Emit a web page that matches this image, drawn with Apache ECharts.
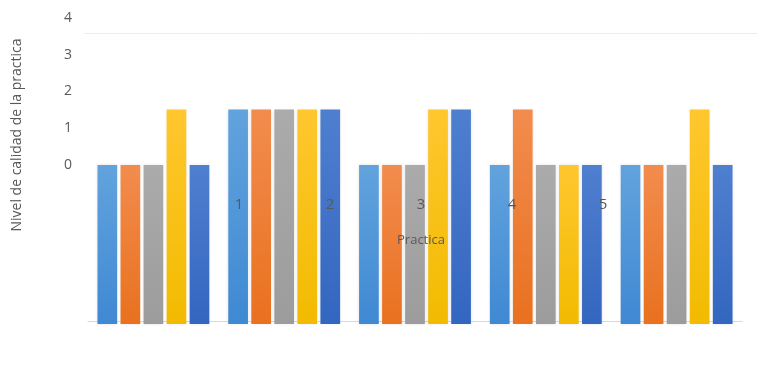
<!DOCTYPE html>
<html>
<head>
<meta charset="utf-8">
<script src="https://cdn.jsdelivr.net/npm/echarts@6/dist/echarts.min.js"></script>
<style>html,body{margin:0;padding:0;background:#fff}#c{width:757px;height:383px}</style>
</head>
<body>
<div id="c"></div>
<script>
// ---- data ----
const groups = ['g1', 'g2', 'g3', 'g4', 'g5'];          // bar groups (unlabelled in the picture)
const categoryLabels = ['1', '2', '3', '4', '5'];        // category tick labels as printed
const yTickLabels = [0, 1, 2, 3, 4];                     // y tick labels
const seriesA = [0, 1.5, 0, 0, 0];
const seriesB = [0, 1.5, 0, 1.5, 0];
const seriesC = [0, 1.5, 0, 0, 0];
const seriesD = [1.5, 1.5, 1.5, 0, 1.5];
const seriesE = [0, 1.5, 1.5, 0, 0];
const axisFloor = -4.3;   // value at which the bars' baseline sits on the labelled axis
const axisCeil = 3.57;    // value at the top gridline
const xTitle = 'Practica';
const yTitle = 'Nivel de calidad de la practica';

const colors = [
  ['#62a3dd', '#3f89d3'],
  ['#f28c4e', '#e9711f'],
  ['#ababab', '#9c9c9c'],
  ['#ffc72e', '#f2bb00'],
  ['#4f7fcf', '#3366c0']
];
const seriesList = [seriesA, seriesB, seriesC, seriesD, seriesE];

const chart = echarts.init(document.getElementById('c'), null, {renderer: 'canvas'});
const font = '"Open Sans", "Noto Sans", sans-serif';

chart.setOption({
  animation: false,
  backgroundColor: '#ffffff',
  grid: [
    {left: 88, right: 15, top: 33, bottom: 59},           // bars
    {left: 88, right: 15, top: 18, height: 147},          // labelled value axis
    {left: 88, right: 15, top: 35, height: 200},          // axis title holder
    {left: 193.5, right: 108.5, top: 190, height: 5},     // category labels
    {left: 84, right: 0, top: 23, height: 10}             // top gridline
  ],
  xAxis: [
    {type: 'category', gridIndex: 0, data: groups, offset: -3,
     axisLine: {show: true, lineStyle: {color: '#d9d9d9', width: 1}},
     axisTick: {show: false}, axisLabel: {show: false}},
    {type: 'category', gridIndex: 4, data: groups,
     axisLine: {show: true, lineStyle: {color: '#ececec', width: 1}},
     axisTick: {show: false}, axisLabel: {show: false}},
    {type: 'value', gridIndex: 1, show: false},
    {type: 'value', gridIndex: 2, show: false},
    {type: 'category', gridIndex: 3, data: categoryLabels, z: 20,
     axisLine: {show: false}, axisTick: {show: false},
     axisLabel: {show: true, color: '#595959', fontSize: 15, fontFamily: font, margin: 2},
     name: xTitle, nameLocation: 'middle', nameGap: 39,
     nameTextStyle: {color: '#595959', fontSize: 13, fontFamily: font}}
  ],
  yAxis: [
    {type: 'value', gridIndex: 0, min: 0, max: axisCeil - axisFloor, show: false, splitLine: {show: false}},
    {type: 'value', gridIndex: 1, min: yTickLabels[0], max: yTickLabels[yTickLabels.length - 1], interval: 1,
     axisLine: {show: false}, axisTick: {show: false}, splitLine: {show: false},
     axisLabel: {color: '#595959', fontSize: 14, fontFamily: font, margin: 16}},
    {type: 'value', gridIndex: 2, min: 0, max: 1,
     axisLine: {show: false}, axisTick: {show: false}, splitLine: {show: false}, axisLabel: {show: false},
     name: yTitle, nameLocation: 'middle', nameRotate: 90, nameGap: 64,
     nameTextStyle: {color: '#595959', fontSize: 14, fontFamily: font}},
    {type: 'value', gridIndex: 3, show: false},
    {type: 'value', gridIndex: 4, show: false}
  ],
  series: seriesList.map((arr, i) => ({
    type: 'bar',
    xAxisIndex: 0, yAxisIndex: 0,
    data: arr.map(v => v - axisFloor),
    barGap: '17%',
    barCategoryGap: '14.5%',
    itemStyle: {
      color: new echarts.graphic.LinearGradient(0, 0, 0, 1, [
        {offset: 0, color: colors[i][0]},
        {offset: 1, color: colors[i][1]}
      ]),
      shadowColor: 'rgba(0,0,0,0.12)', shadowBlur: 3
    }
  }))
});
</script>
</body>
</html>
